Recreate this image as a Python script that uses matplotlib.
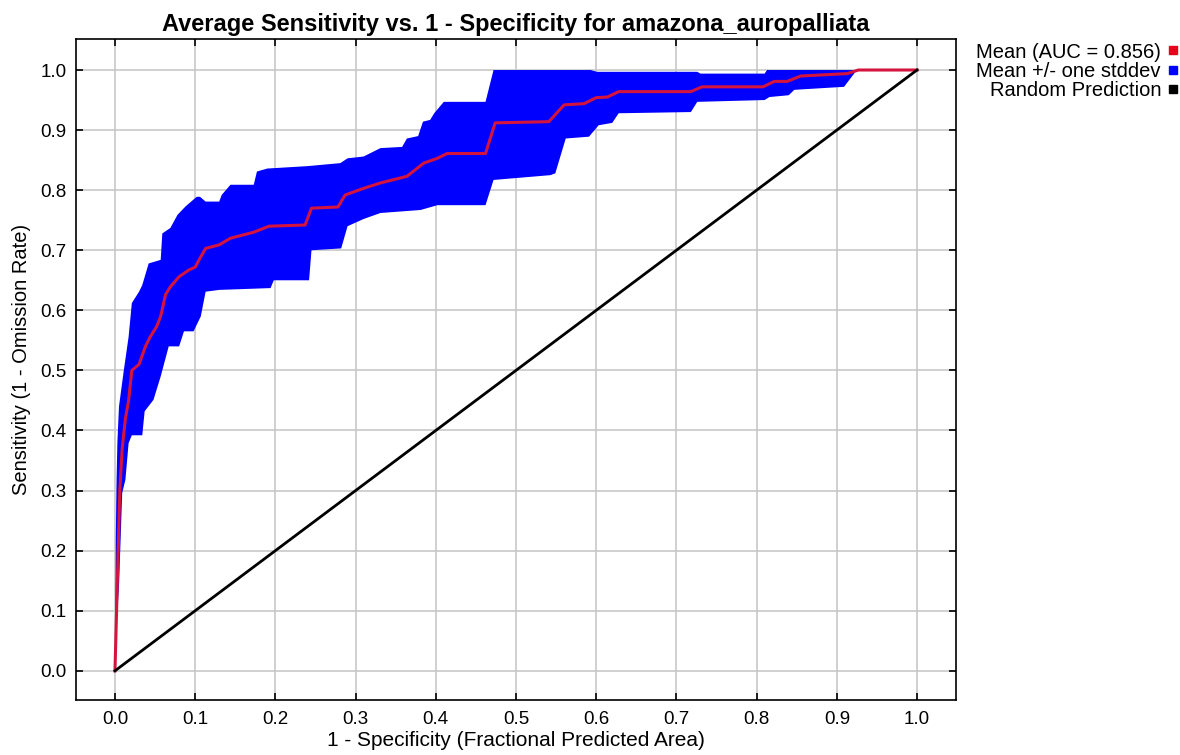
import numpy as np
import matplotlib
matplotlib.use("Agg")
import matplotlib.pyplot as plt

# mean ROC curve (1 - specificity, sensitivity)
mean_x = [0.0, 0.002, 0.004, 0.006, 0.009, 0.013, 0.017, 0.021, 0.030, 0.038,
          0.044, 0.052, 0.057, 0.063, 0.069, 0.080, 0.092, 0.100, 0.107, 0.113,
          0.130, 0.144, 0.173, 0.192, 0.237, 0.245, 0.278, 0.287, 0.310, 0.331,
          0.364, 0.385, 0.402, 0.414, 0.462, 0.474, 0.541, 0.560, 0.585, 0.600,
          0.614, 0.628, 0.718, 0.732, 0.808, 0.822, 0.838, 0.855, 0.913, 0.927, 1.0]
mean_y = [0.0, 0.10, 0.20, 0.30, 0.37, 0.42, 0.45, 0.50, 0.51, 0.54,
          0.556, 0.573, 0.59, 0.626, 0.639, 0.656, 0.667, 0.672, 0.689, 0.703,
          0.709, 0.72, 0.73, 0.74, 0.742, 0.77, 0.772, 0.792, 0.803, 0.812,
          0.823, 0.845, 0.853, 0.861, 0.861, 0.912, 0.914, 0.942, 0.944, 0.954,
          0.955, 0.964, 0.964, 0.972, 0.972, 0.981, 0.981, 0.990, 0.994, 1.0, 1.0]

# mean + one stddev
upper_x = [0.0, 0.001, 0.002, 0.003, 0.005, 0.011, 0.017, 0.021, 0.030, 0.034,
           0.042, 0.057, 0.059, 0.069, 0.078, 0.088, 0.102, 0.106, 0.113, 0.130,
           0.133, 0.144, 0.173, 0.177, 0.190, 0.240, 0.281, 0.290, 0.310, 0.331,
           0.358, 0.364, 0.378, 0.384, 0.393, 0.398, 0.410, 0.462, 0.472, 0.593,
           0.601, 0.726, 0.730, 0.810, 0.813, 1.0]
upper_y = [0.0, 0.22, 0.32, 0.38, 0.44, 0.50, 0.556, 0.612, 0.631, 0.642,
           0.678, 0.684, 0.728, 0.737, 0.759, 0.773, 0.789, 0.789, 0.781, 0.781,
           0.792, 0.809, 0.809, 0.831, 0.836, 0.840, 0.845, 0.853, 0.856, 0.870,
           0.872, 0.886, 0.890, 0.914, 0.917, 0.928, 0.947, 0.947, 1.0, 1.0,
           0.997, 0.997, 0.994, 0.994, 1.0, 1.0]

# mean - one stddev
lower_x = [0.0, 0.003, 0.005, 0.007, 0.009, 0.013, 0.017, 0.021, 0.034, 0.037,
           0.048, 0.057, 0.067, 0.080, 0.086, 0.098, 0.107, 0.113, 0.130, 0.194,
           0.198, 0.242, 0.245, 0.282, 0.290, 0.310, 0.331, 0.381, 0.402, 0.462,
           0.472, 0.543, 0.549, 0.562, 0.591, 0.603, 0.620, 0.628, 0.718, 0.726,
           0.810, 0.816, 0.840, 0.847, 0.909, 0.925, 1.0]
lower_y = [0.0, 0.10, 0.14, 0.218, 0.296, 0.318, 0.379, 0.392, 0.392, 0.432,
           0.451, 0.49, 0.54, 0.54, 0.565, 0.565, 0.59, 0.631, 0.634, 0.637,
           0.65, 0.65, 0.70, 0.703, 0.74, 0.752, 0.762, 0.767, 0.775, 0.775,
           0.817, 0.825, 0.828, 0.886, 0.889, 0.908, 0.912, 0.928, 0.93, 0.947,
           0.95, 0.955, 0.958, 0.967, 0.972, 1.0, 1.0]

random_x = [0.0, 1.0]
random_y = [0.0, 1.0]

ticks = np.round(np.arange(0, 1.01, 0.1), 1)
legend_labels = ["Mean (AUC = 0.856)", "Mean +/- one stddev", "Random Prediction"]
legend_colors = ["#e8001c", "#0000ff", "#000000"]

plt.rcParams['font.family'] = ['Liberation Sans', 'DejaVu Sans']

fig = plt.figure(figsize=(11.8, 7.55), dpi=100)
ax = fig.add_axes([76 / 1180, 55 / 755, 880 / 1180, 661 / 755])

# band as polygon: upper edge then lower edge reversed
band_x = np.concatenate([upper_x, lower_x[::-1]])
band_y = np.concatenate([upper_y, lower_y[::-1]])
ax.fill(band_x, band_y, color="#0000ff", linewidth=0, zorder=2)
ax.plot(mean_x, mean_y, color="#d4143c", linewidth=2.2, zorder=3)
ax.plot(random_x, random_y, color="black", linewidth=2.0, zorder=3)

ax.set_xlim(-0.0486, 1.0486)
ax.set_ylim(-0.0486, 1.0516)
ax.set_xticks(ticks)
ax.set_yticks(ticks)
ax.set_xticklabels([f"{t:.1f}" for t in ticks])
ax.set_yticklabels([f"{t:.1f}" for t in ticks])
ax.grid(True, color="#c8c8c8", linewidth=1.2, zorder=0)
ax.set_axisbelow(True)
ax.tick_params(direction="in", length=5, width=1.2, top=True, right=True,
               labelsize=13.5)
ax.tick_params(axis="x", pad=8)
ax.tick_params(axis="y", pad=7)
for sp in ax.spines.values():
    sp.set_linewidth(1.2)

ax.set_title("Average Sensitivity vs. 1 - Specificity for amazona_auropalliata",
             fontsize=17, fontweight="bold", pad=6)
ax.set_xlabel("1 - Specificity (Fractional Predicted Area)", fontsize=15, labelpad=2)
ax.set_ylabel("Sensitivity (1 - Omission Rate)", fontsize=14.5)
ax.yaxis.set_label_coords(-0.051, 0.515)

# legend on the right: right-aligned text with small colour squares
for i, (lab, col) in enumerate(zip(legend_labels, legend_colors)):
    ypos = 1 - (52 + i * 19.5) / 755
    fig.text(1161 / 1180, ypos, lab, ha="right", va="center", fontsize=14.5)
    fig.add_artist(plt.Rectangle((1169 / 1180, ypos - 2 / 755), 8 / 1180, 8 / 755,
                                 color=col, transform=fig.transFigure))

fig.savefig("out.png", dpi=100)
